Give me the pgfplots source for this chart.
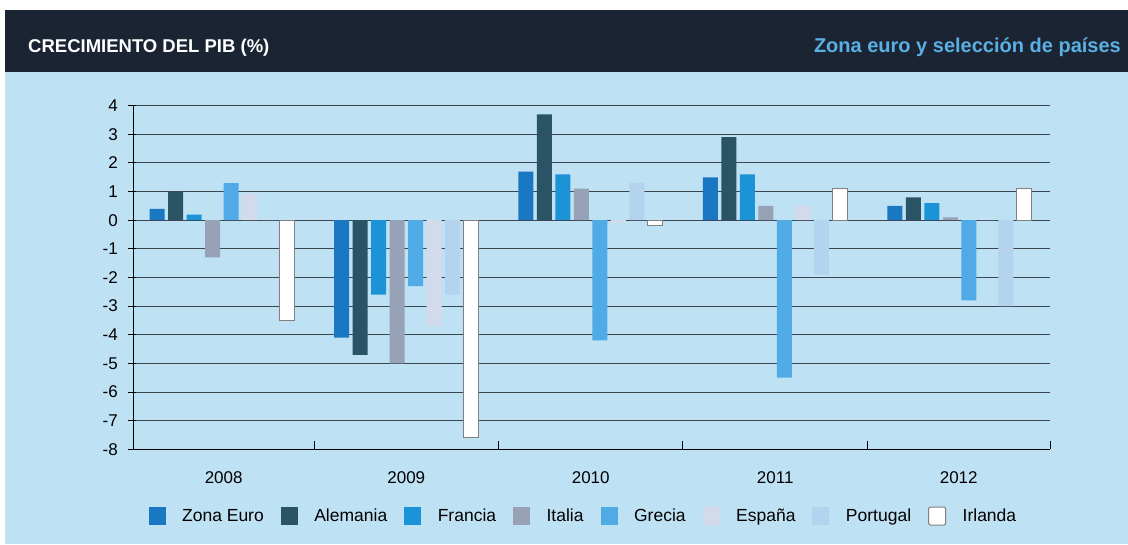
\documentclass[border=0pt]{standalone}
\usepackage{fontspec}
\setmainfont{Liberation Sans}
\usepackage{pgfplots}
\pgfplotsset{compat=1.18}
\definecolor{bgblue}{HTML}{BFE1F4}
\definecolor{band}{HTML}{1B2433}
\definecolor{hdrblue}{HTML}{5AAFE3}
\definecolor{cZE}{HTML}{1A78C2}
\definecolor{cAL}{HTML}{2B5366}
\definecolor{cFR}{HTML}{1C93D6}
\definecolor{cIT}{HTML}{98A2B6}
\definecolor{cGR}{HTML}{4FAAE6}
\definecolor{cES}{HTML}{D3DAEC}
\definecolor{cPT}{HTML}{B4D3EF}
\definecolor{gridc}{HTML}{3D4650}
\begin{document}
\begin{tikzpicture}[x=1pt,y=1pt]
\fill[white] (0pt,0pt) rectangle (1128pt,544pt);
\fill[bgblue] (5pt,0pt) rectangle (1128pt,472pt);
\fill[band] (5pt,472pt) rectangle (1128pt,534pt);
\node[anchor=base west, text=white, font=\fontsize{18.5}{20}\selectfont\bfseries, inner sep=0] at (28pt,491pt) {CRECIMIENTO DEL PIB (\%)};
\node[anchor=base east, text=hdrblue, font=\fontsize{20}{22}\selectfont\bfseries, inner sep=0] at (1121pt,491pt) {Zona euro y selección de países};
\begin{axis}[
  at={(133.3pt,94.7pt)}, anchor=south west, scale only axis,
  width=916.7pt, height=343.6pt,
  xmin=-0.48, xmax=4.49, ymin=-8, ymax=4,
  ybar=3.5pt, bar width=15pt,
  every axis plot/.append style={legend image code/.code={\fill[##1] (0pt,-9pt) rectangle (17pt,9pt);}},
  axis x line*=bottom, axis y line*=left,
  axis line style={black, line width=1.2pt},
  ytick={-8,-7,...,4},
  ymajorgrids, grid style={gridc, line width=1pt},
  tick align=inside, major tick length=8pt,
  y tick style={black, line width=1pt, xshift=-5pt},
  x tick style={black, line width=1pt},
  xtick={-0.48,0.5,1.5,2.5,3.5,4.49},
  xticklabels={2008,2009,2010,2011,2012},
  x tick label as interval,
  /pgf/number format/assume math mode=true,
  ticklabel style={font=\fontsize{17}{20}\selectfont},
  xticklabel style={yshift=-19pt},
  yticklabel style={xshift=-12pt},
  legend columns=8,
  legend style={at={(0.491,0)}, anchor=center, yshift=-66.7pt, draw=none, fill=none,
    font=\fontsize{17.5}{20}\selectfont,
    /tikz/every odd column/.append style={column sep=14.5pt},
    /tikz/every even column/.append style={column sep=15pt}},
]
\addplot[fill=cZE, draw=none] coordinates {(0,0.4) (1,-4.1) (2,1.7) (3,1.5) (4,0.5)};
\addplot[fill=cAL, draw=none] coordinates {(0,1.0) (1,-4.7) (2,3.7) (3,2.9) (4,0.8)};
\addplot[fill=cFR, draw=none] coordinates {(0,0.2) (1,-2.6) (2,1.6) (3,1.6) (4,0.6)};
\addplot[fill=cIT, draw=none] coordinates {(0,-1.3) (1,-5.0) (2,1.1) (3,0.5) (4,0.1)};
\addplot[fill=cGR, draw=none] coordinates {(0,1.3) (1,-2.3) (2,-4.2) (3,-5.5) (4,-2.8)};
\addplot[fill=cES, draw=none] coordinates {(0,0.9) (1,-3.7) (2,-0.1) (3,0.5) (4,0.0)};
\addplot[fill=cPT, draw=none] coordinates {(0,0.0) (1,-2.6) (2,1.3) (3,-1.9) (4,-3.0)};
\addplot[fill=white, draw=gray, line width=1pt,
  legend image code/.code={\draw[fill=white, draw=gray, line width=1pt, rounded corners=1.5pt] (0pt,-9pt) rectangle (17pt,9pt);}]
  coordinates {(0,-3.5) (1,-7.6) (2,-0.2) (3,1.1) (4,1.1)};
\legend{Zona Euro,Alemania,Francia,Italia,Grecia,España,Portugal,Irlanda}
\end{axis}
\end{tikzpicture}
\end{document}
